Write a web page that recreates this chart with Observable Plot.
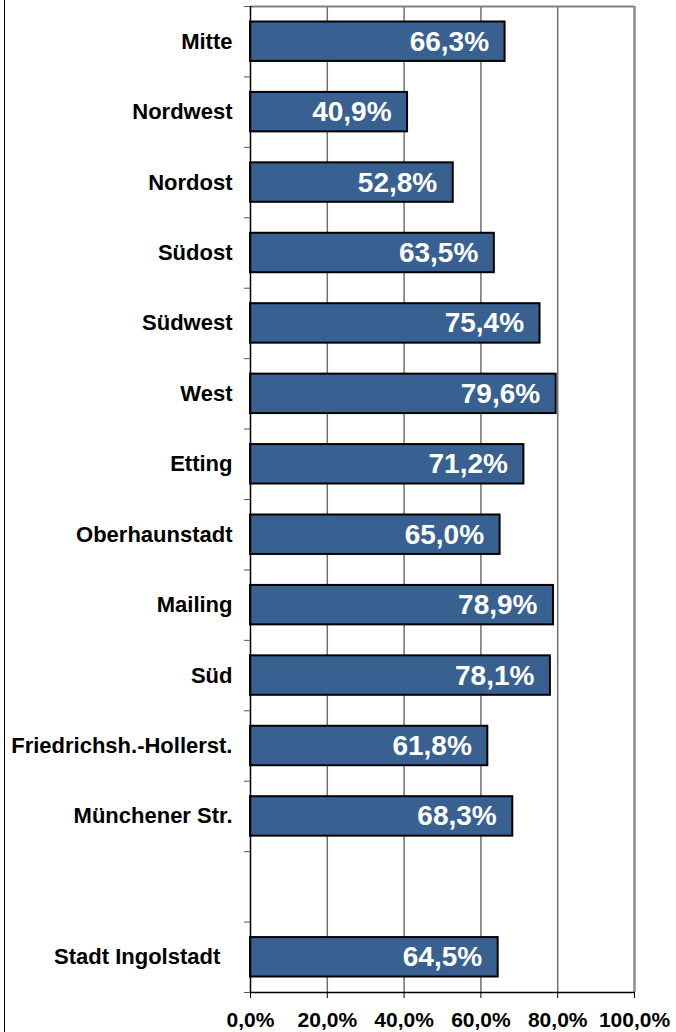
<!DOCTYPE html>
<html>
<head>
<meta charset="utf-8">
<script src="https://cdn.jsdelivr.net/npm/d3@7"></script>
<script src="https://cdn.jsdelivr.net/npm/@observablehq/plot@0.6"></script>
<style>
  html, body { margin: 0; padding: 0; background: #fff; }
  #wrap { position: relative; width: 676px; height: 1032px; }
  #wrap::before { content: ""; position: absolute; left: 4px; top: 0; width: 1px; height: 1032px; background: #000; }
  svg { display: block; font-family: "Liberation Sans", Arial, sans-serif; }
</style>
</head>
<body>
<div id="wrap"></div>
<script>
const categories = ["Mitte", "Nordwest", "Nordost", "Südost", "Südwest", "West", "Etting",
  "Oberhaunstadt", "Mailing", "Süd", "Friedrichsh.-Hollerst.", "Münchener Str.", "", "Stadt Ingolstadt\u00a0\u00a0"];
const values = [66.3, 40.9, 52.8, 63.5, 75.4, 79.6, 71.2, 65.0, 78.9, 78.1, 61.8, 68.3, null, 64.5];
const xTicks = [0, 20, 40, 60, 80, 100];

const data = categories.map((c, i) => ({i, name: c, value: values[i]}));
const bars = data.filter(d => d.value != null);
const fmt = v => v.toFixed(1).replace(".", ",") + "%";
const slotTicks = d3.range(0, categories.length + 1);

const chart = Plot.plot({
  width: 676,
  height: 1032,
  marginLeft: 250,
  marginRight: 42,
  marginTop: 6,
  marginBottom: 40,
  x: {domain: [0, 100]},
  y: {domain: [0, categories.length], reverse: true},
  style: {fontFamily: "'Liberation Sans', Arial, sans-serif", background: "#fff"},
  marks: [
    Plot.ruleX(xTicks.slice(1, -1), {stroke: "#707070", strokeWidth: 1.5, strokeOpacity: 1}),
    Plot.ruleX([100], {stroke: "#8c8c8c", strokeWidth: 2.5, strokeOpacity: 1}),
    Plot.ruleY([0], {stroke: "#808080", strokeWidth: 2, strokeOpacity: 1}),
    Plot.rectX(bars, {
      x1: 0, x2: "value",
      y1: d => d.i + 0.22, y2: d => d.i + 0.78,
      fill: "#386192", stroke: "#000", strokeWidth: 2
    }),
    Plot.text(bars, {
      x: "value", y: d => d.i + 0.5, text: d => fmt(d.value),
      textAnchor: "end", dx: -16, fill: "#fff", fontSize: 28, fontWeight: "bold"
    }),
    Plot.text(data.filter(d => d.name !== ""), {
      x: 0, y: d => d.i + 0.5, text: "name",
      textAnchor: "end", dx: -18, fill: "#000", fontSize: 22, fontWeight: "bold"
    }),
    Plot.ruleX([0], {stroke: "#000", strokeWidth: 1.5}),
    Plot.ruleY([categories.length], {stroke: "#000", strokeWidth: 1.5}),
    Plot.axisY({ticks: slotTicks, tickSize: 6, tickFormat: () => "", label: null, stroke: "#555"}),
    Plot.axisX({
      ticks: xTicks, tickSize: 6, tickPadding: 14, tickFormat: fmt, label: null,
      fontSize: 21, fontWeight: "bold", fill: "#000", stroke: "#000"
    })
  ]
});
document.getElementById("wrap").appendChild(chart);
</script>
</body>
</html>
